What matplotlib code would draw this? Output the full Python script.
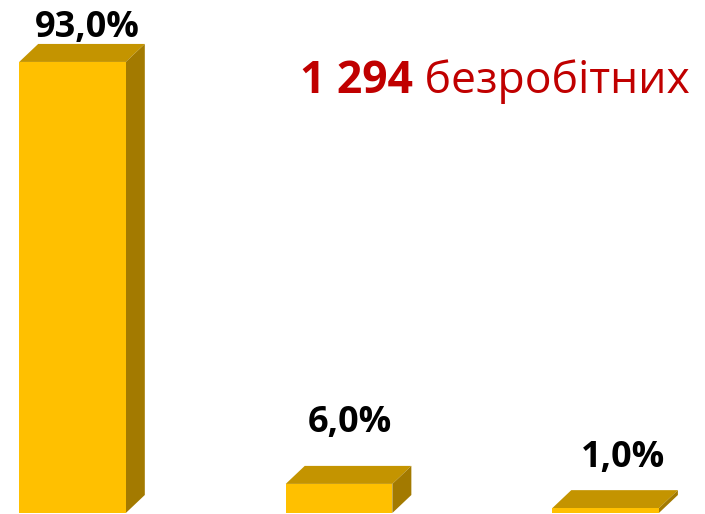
import matplotlib.pyplot as plt
from matplotlib.patches import Polygon

# data
categories = ["A", "B", "C"]
values = [93.0, 6.0, 1.0]
labels = ["93,0%", "6,0%", "1,0%"]
total_text = "1 294"
total_suffix = " безробітних"

front_col = "#FFC000"
top_col = "#C49400"
side_col = "#A37A00"
label_pad = [5, 24.5, 17]   # points above the top face, per bar
label_shift = [4, 1, 6]     # points to the right

fig = plt.figure(figsize=(7.05, 5.14), dpi=100)
ax = fig.add_axes([0, 0, 1, 1])
ax.set_xlim(-0.272, 2.373)
ax.set_ylim(-0.206, 105.77)
ax.axis("off")

w = 0.4
dx = 19 / 266.5   # depth offset in x units
dy = 18 / 4.85    # depth offset in y units

xs = list(range(len(categories)))
bars = ax.bar(xs, values, width=w, color=front_col, edgecolor="none", zorder=3)
for i, (b, lab) in enumerate(zip(bars, labels)):
    x0 = b.get_x()
    x1 = x0 + b.get_width()
    h = b.get_height()
    # top face
    ax.add_patch(Polygon([(x0, h), (x1, h), (x1 + dx, h + dy), (x0 + dx, h + dy)],
                         closed=True, facecolor=top_col, edgecolor="none", zorder=2))
    # side face
    ax.add_patch(Polygon([(x1, 0), (x1 + dx, dy), (x1 + dx, h + dy), (x1, h)],
                         closed=True, facecolor=side_col, edgecolor="none", zorder=2))
    ax.annotate(lab, xy=(x0 + w / 2 + dx / 2, h + dy),
                xytext=(label_shift[i], label_pad[i]), textcoords="offset points",
                ha="center", va="baseline", fontsize=26, fontweight="bold",
                family="Open Sans", color="black")

t1 = ax.text(300 / 705, 1 - 93 / 514, total_text, transform=fig.transFigure,
             ha="left", va="baseline", fontsize=32, fontweight="bold",
             family="Open Sans", color="#C00000")
ax.annotate(total_suffix, xy=(1, 0), xycoords=t1, ha="left", va="bottom",
            fontsize=32, family="Open Sans", color="#C00000")

fig.savefig("out.png", dpi=100)
